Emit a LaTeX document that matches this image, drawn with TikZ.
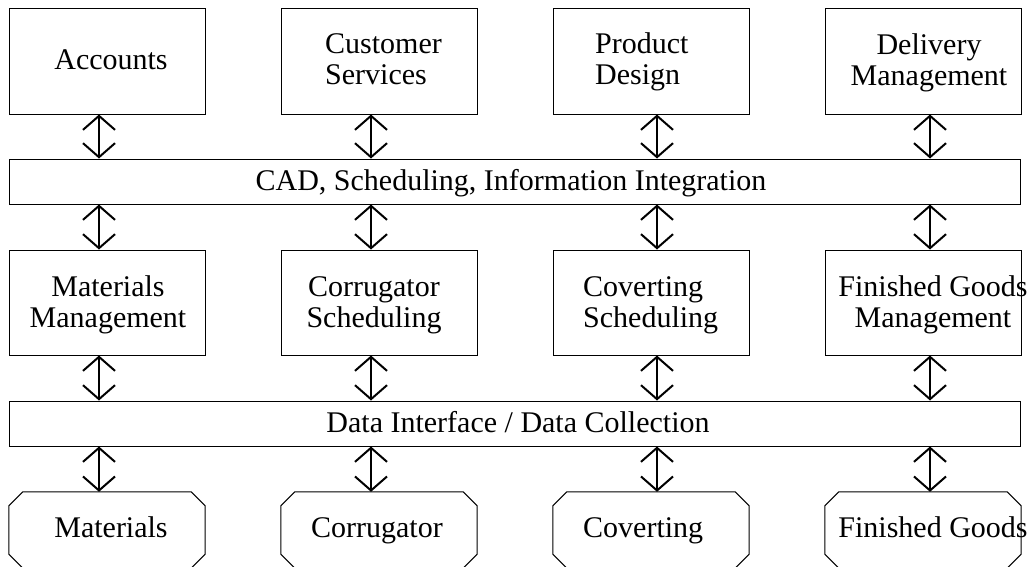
\documentclass[tikz,border=0pt]{standalone}
\usepackage{fontspec}
\setmainfont{Liberation Serif}
\usetikzlibrary{arrows.meta}
\begin{document}
\begin{tikzpicture}[x=1pt,y=-1pt,
  box/.style={draw,line width=1pt,inner sep=0pt,minimum width=196pt,minimum height=106pt},
  bar/.style={draw,line width=1pt,inner sep=0pt,minimum width=1011pt,minimum height=45pt},
  term/.style={inner sep=0pt,minimum width=196pt,minimum height=76pt},
  cut/.style={line width=1pt},
  lbl/.style={font=\fontsize{30}{30.5}\selectfont,inner sep=0pt},
  barb/.tip={Straight Barb[length=14pt,width=32pt]},
  dbl/.style={line width=2pt,barb-barb}]
\useasboundingbox (0,0) rectangle (1030,566);

% arrow columns
\coordinate (c1) at (99,0);
\coordinate (c2) at (371,0);
\coordinate (c3) at (657,0);
\coordinate (c4) at (930,0);

% departments
\node[box] (acc) at (107,61) {};
\node[box] (cs)  at (379,61) {};
\node[box] (pd)  at (651,61) {};
\node[box] (dm)  at (923,61) {};

% integration layer
\node[bar] (cad) at (514.5,181.5) {};

% scheduling / management
\node[box,minimum height=105pt] (mm) at (107,302.5) {};
\node[box,minimum height=105pt] (cr) at (379,302.5) {};
\node[box,minimum height=105pt] (cv) at (651,302.5) {};
\node[box,minimum height=105pt] (fg) at (923,302.5) {};

% data layer
\node[bar] (dat) at (514.5,423.5) {};

% plant: boxes with cut corners
\node[term] (pm) at (107,530) {};
\node[term] (pc) at (379,530) {};
\node[term] (pv) at (651,530) {};
\node[term] (pf) at (923,530) {};
\foreach \n in {pm,pc,pv,pf}{
  \draw[cut] ([xshift=14pt]\n.north west) -- ([xshift=-14pt]\n.north east)
    -- ([yshift=-14pt]\n.north east) -- ([yshift=14pt]\n.south east)
    -- ([xshift=-14pt]\n.south east) -- ([xshift=14pt]\n.south west)
    -- ([yshift=14pt]\n.south west) -- ([yshift=-14pt]\n.north west) -- cycle;
}

% texts
\node[lbl,anchor=base] (tacc) at (111,69) {Accounts};
\node[lbl,anchor=base west,align=left] (tcs) at (325,84) {Customer\\Services};
\node[lbl,anchor=base west,align=left] (tpd) at (595,84) {Product\\Design};
\node[lbl,anchor=base,align=center] (tdm) at (929,85) {Delivery\\Management};

\node[lbl,anchor=base] (tcad) at (511,190) {CAD, Scheduling, Information Integration};

\node[lbl,anchor=base,align=center] (tmm) at (108,327) {Materials\\Management};
\node[lbl,anchor=base,align=center] (tcr) at (374,327) {Corrugator\\Scheduling};
\node[lbl,anchor=base west,align=left] (tcv) at (583,327) {Coverting\\Scheduling};
\node[lbl,anchor=base,align=center] (tfg) at (933,327) {Finished Goods\\Management};

\node[lbl,anchor=base] (tdat) at (518,432) {Data Interface / Data Collection};

\node[lbl,anchor=base] (tpm) at (111,537) {Materials};
\node[lbl,anchor=base] (tpc) at (377,537) {Corrugator};
\node[lbl,anchor=base west] (tpv) at (583,537) {Coverting};
\node[lbl,anchor=base] (tpf) at (933,537) {Finished Goods};

% two-way links
\foreach \c/\a/\m/\p in {c1/acc/mm/pm, c2/cs/cr/pc, c3/pd/cv/pv, c4/dm/fg/pf}{
  \draw[dbl] (\c |- \a.south) -- (\c |- cad.north);
  \draw[dbl] (\c |- cad.south) -- (\c |- \m.north);
  \draw[dbl] (\c |- \m.south) -- (\c |- dat.north);
  \draw[dbl] (\c |- dat.south) -- (\c |- \p.north);
}
\end{tikzpicture}
\end{document}
